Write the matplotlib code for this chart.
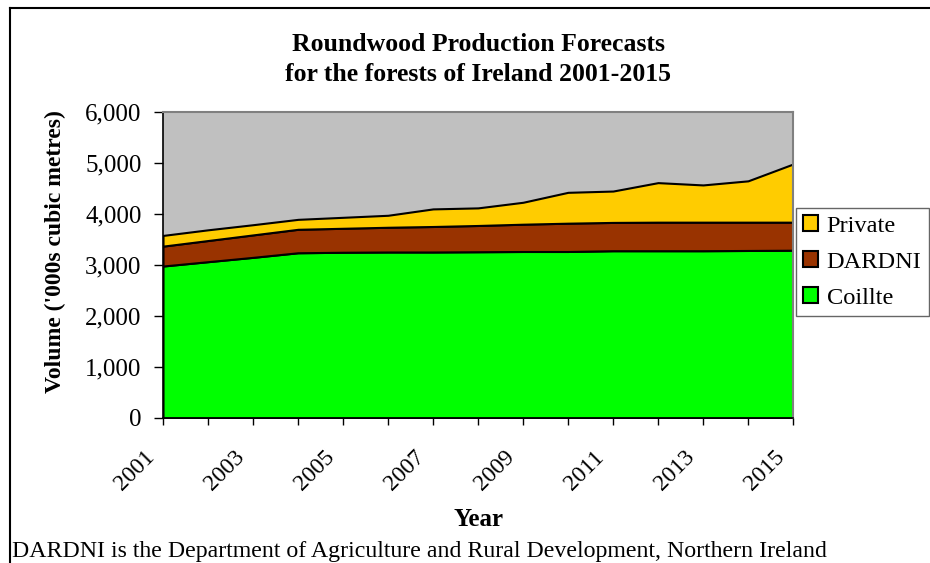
import matplotlib
matplotlib.use('Agg')
import matplotlib.pyplot as plt
import matplotlib.transforms as mtransforms
from matplotlib.lines import Line2D
from matplotlib.ticker import FuncFormatter

plt.rcParams['font.family'] = 'Liberation Serif'

# Data ('000s cubic metres)
years = [2001, 2002, 2003, 2004, 2005, 2006, 2007, 2008,
         2009, 2010, 2011, 2012, 2013, 2014, 2015]
coillte = [2980, 3065, 3150, 3240, 3250, 3255, 3255, 3260,
           3265, 3265, 3280, 3280, 3280, 3285, 3290]
dardni = [390, 415, 440, 460, 470, 485, 500, 515,
          535, 555, 555, 560, 560, 555, 550]
private = [210, 210, 200, 195, 215, 235, 345, 345,
           430, 605, 615, 775, 730, 810, 1140]

series_names = ['Coillte', 'DARDNI', 'Private']
series_colors = ['#00FF00', '#993300', '#FFCC00']

W, H = 930, 563
fig = plt.figure(figsize=(W / 100, H / 100), dpi=100)
fig.patch.set_facecolor('white')

# plot area in pixel coordinates
left, right, top, bottom = 163, 793, 112, 418
ax = fig.add_axes([left / W, 1 - bottom / H, (right - left) / W, (bottom - top) / H])
ax.set_facecolor('#C0C0C0')

polys = ax.stackplot(years, coillte, dardni, private, colors=series_colors,
                     edgecolor='black', linewidth=1.5)

ax.set_xlim(years[0], years[-1])
ax.set_ylim(0, 6000)
ax.set_yticks(range(0, 6001, 1000))
ax.yaxis.set_major_formatter(FuncFormatter(lambda v, p: f'{int(v):,}'))
ax.set_xticks(years)
ax.set_xticklabels([str(y) if y % 2 == 1 else '' for y in years])

ax.tick_params(axis='y', direction='out', length=6.5, width=1, pad=9, labelsize=18)
ax.tick_params(axis='x', direction='out', length=5, width=1, pad=0, labelsize=17)

for lab in ax.get_xticklabels():
    lab.set_rotation(45)
    lab.set_rotation_mode('anchor')
    lab.set_ha('right')
    lab.set_va('center')
    off = mtransforms.ScaledTranslation(-12 / 100, -29 / 100, fig.dpi_scale_trans)
    lab.set_transform(lab.get_transform() + off)

for s in ['left', 'bottom']:
    ax.spines[s].set_color('black')
    ax.spines[s].set_linewidth(1.2)
for s in ['top', 'right']:
    ax.spines[s].set_color('#808080')
    ax.spines[s].set_linewidth(1.5)

# titles and labels
fig.text(478 / W, 1 - 51 / H, 'Roundwood Production Forecasts',
         ha='center', va='baseline', fontsize=18.5, fontweight='bold')
fig.text(478 / W, 1 - 81 / H, 'for the forests of Ireland 2001-2015',
         ha='center', va='baseline', fontsize=18.5, fontweight='bold')
fig.text(55 / W, 1 - 252 / H, "Volume ('000s cubic metres)", rotation=90,
         ha='center', va='center', fontsize=17, fontweight='bold')
fig.text(478 / W, 1 - 520 / H, 'Year', ha='center', va='center',
         fontsize=18, fontweight='bold')
fig.text(12 / W, 6 / H,
         'DARDNI is the Department of Agriculture and Rural Development, Northern Ireland',
         ha='left', va='baseline', fontsize=17.2)

# legend (reverse order, Private on top)
handles = [polys[2], polys[1], polys[0]]
labels = [series_names[2], series_names[1], series_names[0]]
leg = fig.legend(handles, labels, loc='upper left',
                 bbox_to_anchor=(796 / W, 1 - 208 / H), fontsize=17.6,
                 frameon=True, fancybox=False, borderpad=0.3, labelspacing=0.6,
                 handlelength=0.6, handleheight=0.6, handletextpad=0.35,
                 borderaxespad=0)
leg.get_frame().set_edgecolor('#404040')
leg.get_frame().set_linewidth(1)

# outer chart border (left and top visible)
fig.add_artist(Line2D([10 / W, 10 / W], [0, 1 - 8 / H], color='black', linewidth=1.5,
                      transform=fig.transFigure))
fig.add_artist(Line2D([10 / W, 1], [1 - 8 / H, 1 - 8 / H], color='black', linewidth=1.5,
                      transform=fig.transFigure))

fig.savefig('out.png', dpi=100)
